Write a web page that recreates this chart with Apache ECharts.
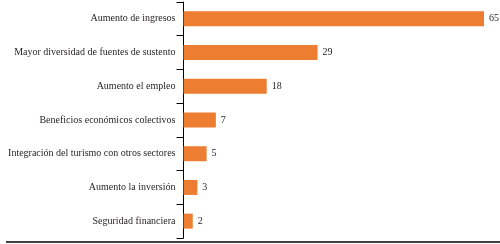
<!DOCTYPE html>
<html><head><meta charset="utf-8">
<script src="https://cdn.jsdelivr.net/npm/echarts@6/dist/echarts.min.js"></script>
<style>html,body{margin:0;padding:0;background:#fff}#c{width:500px;height:244px}</style>
</head><body><div id="c"></div>
<script>
const categories = ["Aumento de ingresos","Mayor diversidad de fuentes de sustento","Aumento el empleo","Beneficios económicos colectivos","Integración del turismo con otros sectores","Aumento la inversión","Seguridad financiera"];
const values = [65, 29, 18, 7, 5, 3, 2];
const xMax = 65;

const chart = echarts.init(document.getElementById('c'), null, {renderer:'canvas'});
const font = '"Liberation Serif", "Times New Roman", serif';
chart.setOption({
  animation:false,
  grid:{left:183.5, right:16, top:2, bottom:6, containLabel:false, outerBoundsMode:'none'},
  xAxis:{type:'value', min:0, max:xMax, show:false},
  yAxis:{type:'category', inverse:true, data:categories,
    axisLine:{show:true, lineStyle:{color:'#000', width:1}},
    axisTick:{show:true, length:7, lineStyle:{color:'#000', width:1}},
    axisLabel:{margin:8, fontFamily:font, fontSize:10, color:'#231f20'}},
  series:[{type:'bar', data:values, barWidth:15,
    itemStyle:{color:'#ED7D31'},
    label:{show:true, position:'right', distance:5, fontFamily:font, fontSize:10, color:'#231f20'}}],
  graphic:[{type:'line', shape:{x1:6, y1:242, x2:500, y2:242}, style:{stroke:'#000', lineWidth:1.3}}]
});
</script></body></html>
